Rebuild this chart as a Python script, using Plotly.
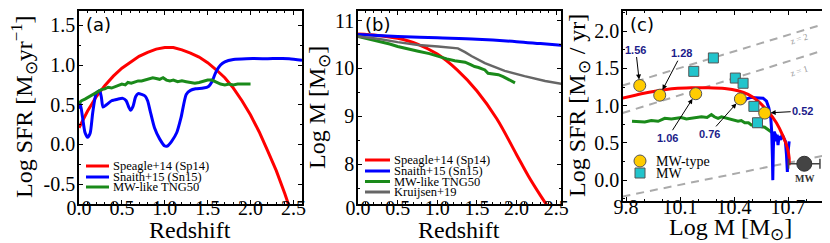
import plotly.graph_objects as go

# ---------------- DATA ----------------
# Panel (a): log SFR vs redshift
z_sp14 = [0.0, 0.05, 0.1, 0.15, 0.2, 0.3, 0.4, 0.5, 0.6, 0.7, 0.8, 0.9, 1.0, 1.1, 1.2, 1.3,
          1.4, 1.5, 1.6, 1.7, 1.8, 1.9, 2.0, 2.1, 2.2, 2.3, 2.4, 2.45]
sfr_sp14 = [0.21, 0.32, 0.42, 0.51, 0.60, 0.74, 0.86, 0.96, 1.04, 1.11, 1.16, 1.20, 1.22, 1.22,
            1.19, 1.15, 1.10, 1.03, 0.94, 0.84, 0.71, 0.55, 0.37, 0.16, -0.08, -0.33, -0.62, -0.78]

z_sn15 = [0.0, 0.015, 0.04, 0.07, 0.1, 0.13, 0.16, 0.2, 0.24, 0.26, 0.28, 0.32, 0.38, 0.45, 0.51,
          0.55, 0.58, 0.6, 0.63, 0.66, 0.69, 0.73, 0.77, 0.8, 0.83, 0.88, 0.94, 1.0, 1.03, 1.08,
          1.14, 1.19, 1.25, 1.3, 1.36, 1.45, 1.51, 1.55, 1.6, 1.65, 1.7, 1.8, 1.95, 2.2, 2.45, 2.6]
sfr_sn15 = [0.45, 0.52, 0.35, 0.15, 0.09, 0.14, 0.40, 0.64, 0.68, 0.60, 0.47, 0.50, 0.55, 0.57,
            0.58, 0.55, 0.47, 0.43, 0.48, 0.60, 0.64, 0.63, 0.61, 0.55, 0.42, 0.21, 0.07, -0.02,
            -0.02, 0.04, 0.15, 0.34, 0.63, 0.68, 0.70, 0.71, 0.73, 0.79, 0.92, 1.00, 1.04, 1.07,
            1.08, 1.08, 1.08, 1.06]

z_tng = [0.0, 0.03, 0.07, 0.1, 0.14, 0.18, 0.22, 0.26, 0.3, 0.34, 0.38, 0.42, 0.46, 0.5, 0.54,
         0.57, 0.61, 0.65, 0.69, 0.73, 0.77, 0.81, 0.86, 0.9, 0.94, 0.98, 1.02, 1.06, 1.1, 1.15,
         1.2, 1.25, 1.3, 1.35, 1.4, 1.45, 1.5, 1.55, 1.6, 1.65, 1.7, 1.75, 1.8, 1.85, 1.9, 1.95, 2.0]
sfr_tng = [0.52, 0.55, 0.57, 0.59, 0.61, 0.64, 0.67, 0.69, 0.70, 0.72, 0.71, 0.73, 0.74, 0.76,
           0.75, 0.78, 0.77, 0.79, 0.80, 0.80, 0.81, 0.82, 0.84, 0.83, 0.82, 0.84, 0.81, 0.80,
           0.81, 0.79, 0.80, 0.79, 0.78, 0.77, 0.78, 0.80, 0.81, 0.81, 0.79, 0.76, 0.75, 0.76,
           0.75, 0.76, 0.76, 0.76, 0.76]

# Panel (b): log M vs redshift
z_m_sp14 = [0.0, 0.25, 0.5, 0.75, 1.0, 1.25, 1.5, 1.75, 2.0, 2.15, 2.3, 2.38]
m_sp14 = [10.72, 10.69, 10.63, 10.51, 10.30, 9.97, 9.53, 8.95, 8.20, 7.75, 7.35, 7.15]
z_m_sn15 = [0.0, 0.5, 1.0, 1.5, 2.0, 2.3, 2.6]
m_sn15 = [10.71, 10.67, 10.64, 10.61, 10.56, 10.52, 10.48]
z_m_tng = [0.0, 0.1, 0.25, 0.4, 0.5, 0.65, 0.76, 0.9, 1.01, 1.12, 1.22, 1.3, 1.35, 1.42, 1.47,
           1.52, 1.56, 1.6, 1.64, 1.7, 1.77, 1.83, 1.89, 1.94, 1.98]
m_tng = [10.67, 10.63, 10.58, 10.51, 10.46, 10.41, 10.36, 10.31, 10.25, 10.20, 10.16, 10.14,
         10.13, 10.08, 10.04, 10.02, 9.99, 9.97, 9.90, 9.88, 9.87, 9.83, 9.78, 9.74, 9.70]
z_m_kr19 = [0.0, 0.25, 0.5, 0.76, 1.01, 1.26, 1.35, 1.43, 1.6, 1.85, 2.1, 2.36, 2.6]
m_kr19 = [10.67, 10.62, 10.55, 10.49, 10.46, 10.42, 10.34, 10.26, 10.11, 9.95, 9.84, 9.74, 9.67]

# Panel (c): log SFR vs log M
m_c_sp14 = [9.78, 9.885, 9.978, 10.07, 10.163, 10.256, 10.348, 10.422, 10.478, 10.533, 10.589,
            10.635, 10.672, 10.696, 10.706, 10.706]
sfr_c_sp14 = [1.10, 1.16, 1.20, 1.23, 1.24, 1.24, 1.23, 1.20, 1.15, 1.06, 0.92, 0.77, 0.59,
              0.43, 0.30, 0.20]
m_c_sn15 = [10.452, 10.469, 10.496, 10.533, 10.561, 10.58, 10.593, 10.604, 10.609, 10.613,
            10.615, 10.618, 10.622, 10.63, 10.635, 10.639, 10.644, 10.65, 10.659, 10.667,
            10.678, 10.685, 10.691, 10.696, 10.7, 10.706]
sfr_c_sn15 = [1.05, 1.09, 1.11, 1.11, 1.10, 1.06, 0.97, 0.83, 0.65, 0.29, 0.0, 0.43, 0.65,
              0.61, 0.52, 0.61, 0.47, 0.59, 0.54, 0.61, 0.54, 0.52, 0.34, 0.11, 0.38, 0.52]
m_c_tng = [9.833, 9.87, 9.904, 9.94, 9.978, 10.015, 10.052, 10.08, 10.107, 10.135, 10.163,
           10.19, 10.219, 10.25, 10.274, 10.29, 10.311, 10.33, 10.348, 10.385, 10.422, 10.44,
           10.459, 10.48, 10.496, 10.533, 10.55, 10.57, 10.598, 10.611]
sfr_c_tng = [0.79, 0.78, 0.78, 0.80, 0.79, 0.83, 0.82, 0.83, 0.84, 0.82, 0.83, 0.84, 0.85,
             0.84, 0.88, 0.85, 0.83, 0.85, 0.84, 0.81, 0.79, 0.80, 0.77, 0.77, 0.74, 0.74,
             0.72, 0.71, 0.66, 0.64]

# MW-type galaxies (yellow circles) and their redshift labels
m_mwtype = [9.876, 9.987, 10.187, 10.435, 10.57]
sfr_mwtype = [1.27, 1.14, 1.16, 1.09, 0.90]
z_mwtype_labels = ["1.56", "1.28", "1.06", "0.76", "0.52"]

# MW measurements (cyan squares)
m_mw = [10.176, 10.285, 10.407, 10.45, 10.51, 10.53]
sfr_mw = [1.46, 1.64, 1.37, 1.30, 0.99, 0.77]
sfr_mw_err = [0, 0, 0, 0, 0, 0.06]

# The Milky Way today
m_mw_now = [10.79]
sfr_mw_now = [0.22]
m_mw_now_err = [0.087]

# Main-sequence reference lines (dashed) in panel (c)
ms_m = [9.78, 10.96]
ms_z2 = [1.27, 2.14]
ms_z1 = [0.90, 1.79]
ms_z0 = [-0.22, 0.36]

# Tick labels
ticks_a_y = [-0.5, 0.0, 0.5, 1.0, 1.5]
ticktext_a_y = ["-0.5", "0.0", "0.5", "1.0", "1.5"]
ticks_z = [0.0, 0.5, 1.0, 1.5, 2.0, 2.5]
ticktext_z = ["0.0", "0.5", "1.0", "1.5", "2.0", "2.5"]
ticks_b_y = [8, 9, 10, 11]
ticks_c_x = [9.8, 10.1, 10.4, 10.7]
ticktext_c_x = ["9.8", "10.1", "10.4", "10.7"]
ticks_c_y = [0.0, 0.5, 1.0, 1.5, 2.0]
ticktext_c_y = ["0.0", "0.5", "1.0", "1.5", "2.0"]

# ---------------- STYLE ----------------
W, H = 830, 243
SERIF = "Liberation Serif"
RED, BLUE, GREEN, GREY = "#ff0000", "#0000ff", "#1a8a1a", "#666666"
NAVY = "#1c1c8a"


def px_x(px):
    return px / W


def px_y(py):
    return 1 - py / H


fig = go.Figure()

# panel (a)
fig.add_trace(go.Scatter(x=z_sp14, y=sfr_sp14, mode="lines", line=dict(color=RED, width=3),
                         xaxis="x", yaxis="y", showlegend=False))
fig.add_trace(go.Scatter(x=z_sn15, y=sfr_sn15, mode="lines", line=dict(color=BLUE, width=3, shape="spline", smoothing=0.6),
                         xaxis="x", yaxis="y", showlegend=False))
fig.add_trace(go.Scatter(x=z_tng, y=sfr_tng, mode="lines", line=dict(color=GREEN, width=3),
                         xaxis="x", yaxis="y", showlegend=False))
# panel (b)
fig.add_trace(go.Scatter(x=z_m_sp14, y=m_sp14, mode="lines", line=dict(color=RED, width=3, shape="spline"),
                         xaxis="x2", yaxis="y2", showlegend=False))
fig.add_trace(go.Scatter(x=z_m_sn15, y=m_sn15, mode="lines", line=dict(color=BLUE, width=3, shape="spline"),
                         xaxis="x2", yaxis="y2", showlegend=False))
fig.add_trace(go.Scatter(x=z_m_tng, y=m_tng, mode="lines", line=dict(color=GREEN, width=3),
                         xaxis="x2", yaxis="y2", showlegend=False))
fig.add_trace(go.Scatter(x=z_m_kr19, y=m_kr19, mode="lines", line=dict(color=GREY, width=2.5),
                         xaxis="x2", yaxis="y2", showlegend=False))
# panel (c)
for ys in (ms_z2, ms_z1, ms_z0):
    fig.add_trace(go.Scatter(x=ms_m, y=ys, mode="lines",
                             line=dict(color="#aaaaaa", width=2, dash="8px,6px"),
                             xaxis="x3", yaxis="y3", showlegend=False))
fig.add_trace(go.Scatter(x=m_c_tng, y=sfr_c_tng, mode="lines", line=dict(color=GREEN, width=3),
                         xaxis="x3", yaxis="y3", showlegend=False))
fig.add_trace(go.Scatter(x=m_c_sn15, y=sfr_c_sn15, mode="lines", line=dict(color=BLUE, width=3),
                         xaxis="x3", yaxis="y3", showlegend=False))
fig.add_trace(go.Scatter(x=m_c_sp14, y=sfr_c_sp14, mode="lines", line=dict(color=RED, width=3, shape="spline", smoothing=0.5),
                         xaxis="x3", yaxis="y3", showlegend=False))
fig.add_trace(go.Scatter(x=m_mw, y=sfr_mw, mode="markers",
                         marker=dict(symbol="square", size=10, color="#22c4cc",
                                     line=dict(color="#555555", width=1)),
                         error_y=dict(type="data", array=sfr_mw_err, color="#444444", thickness=1, width=3),
                         xaxis="x3", yaxis="y3", showlegend=False))
fig.add_trace(go.Scatter(x=m_mwtype, y=sfr_mwtype, mode="markers",
                         marker=dict(symbol="circle", size=12, color="#ffcc00",
                                     line=dict(color="#555555", width=1)),
                         xaxis="x3", yaxis="y3", showlegend=False))
fig.add_trace(go.Scatter(x=m_mw_now, y=sfr_mw_now, mode="markers",
                         marker=dict(symbol="circle", size=15, color="#444444",
                                     line=dict(color="#333333", width=1)),
                         error_x=dict(type="data", array=m_mw_now_err, color="#444444", thickness=1.5, width=5),
                         xaxis="x3", yaxis="y3", showlegend=False))

axis_common = dict(showline=True, linecolor="black", linewidth=1.5, mirror="ticks",
                   ticks="inside", ticklen=4, tickcolor="black", showgrid=False, zeroline=False,
                   automargin=False,
                   tickfont=dict(family=SERIF, size=20, color="black"),
                   title_font=dict(family=SERIF, size=24, color="black"))

ydom = [px_y(196), px_y(3)]
ydom_c = [px_y(193), px_y(3)]
XSO = -15   # pull x tick labels toward the axis
YSO = -2

fig.update_layout(
    width=W, height=H, margin=dict(l=0, r=0, t=0, b=0, pad=0, autoexpand=False),
    paper_bgcolor="white", plot_bgcolor="white",
    xaxis=dict(domain=[px_x(71), px_x(294)], range=[0, 2.6], tickvals=ticks_z, ticktext=ticktext_z,
               anchor="y", ticklabelstandoff=XSO,
               minor=dict(ticks="inside", ticklen=2, dtick=0.1, tickcolor="black"), **axis_common),
    yaxis=dict(domain=ydom, range=[-0.75, 1.68], tickvals=ticks_a_y, ticktext=ticktext_a_y,
               anchor="x", ticklabelstandoff=YSO,
               minor=dict(ticks="inside", ticklen=2, dtick=0.25, tickcolor="black"), **axis_common),
    xaxis2=dict(domain=[px_x(350), px_x(553)], range=[0, 2.56], tickvals=ticks_z, ticktext=ticktext_z,
                anchor="y2", ticklabelstandoff=XSO,
                minor=dict(ticks="inside", ticklen=2, dtick=0.1, tickcolor="black"), **axis_common),
    yaxis2=dict(domain=ydom, range=[7.17, 11.2], tickvals=ticks_b_y,
                anchor="x2", ticklabelstandoff=YSO,
                minor=dict(ticks="inside", ticklen=2, dtick=0.5, tickcolor="black"), **axis_common),
    xaxis3=dict(domain=[px_x(615), px_x(826)], range=[9.783, 10.955], tickvals=ticks_c_x,
                ticktext=ticktext_c_x, anchor="y3", ticklabelstandoff=XSO + 2,
                minor=dict(ticks="inside", ticklen=2, dtick=0.1, tickcolor="black"), **axis_common),
    yaxis3=dict(domain=ydom_c, range=[-0.28, 2.27], tickvals=ticks_c_y, ticktext=ticktext_c_y,
                anchor="x3", ticklabelstandoff=YSO,
                minor=dict(ticks="inside", ticklen=2, dtick=0.25, tickcolor="black"), **axis_common),
)

annotations = []
shapes = []

# axis titles (placed as text at their pixel positions)
for txt, xp, yp in (("Redshift", 182, 222), ("Redshift", 451, 222), ("Log M [M<sub>⊙</sub>]", 722, 221)):
    annotations.append(dict(text=txt, x=px_x(xp), y=px_y(yp), xref="paper", yref="paper",
                            xanchor="center", yanchor="middle", showarrow=False,
                            font=dict(family=SERIF, size=24, color="black")))
for txt, xp, yp in (("Log SFR [M<sub>⊙</sub>yr<sup>−1</sup>]", 16, 99),
                    ("Log M [M<sub>⊙</sub>]", 311, 100),
                    ("Log SFR [M<sub>⊙</sub> / yr]", 571, 98)):
    annotations.append(dict(text=txt, x=px_x(xp), y=px_y(yp), xref="paper", yref="paper",
                            xanchor="center", yanchor="middle", showarrow=False, textangle=-90,
                            font=dict(family=SERIF, size=24, color="black")))

# panel labels
for lab, xp in (("(a)", 76), ("(b)", 355), ("(c)", 620)):
    annotations.append(dict(text=lab, x=px_x(xp), y=px_y(16), xref="paper", yref="paper",
                            xanchor="left", yanchor="middle", showarrow=False,
                            font=dict(family="DejaVu Sans", size=18, color="black")))

# manual legends (lines)
def line_legend(x0, x1, tx, rows):
    for (txt, col, yy) in rows:
        shapes.append(dict(type="line", xref="paper", yref="paper", x0=px_x(x0), x1=px_x(x1),
                           y0=px_y(yy), y1=px_y(yy), line=dict(color=col, width=3)))
        annotations.append(dict(text=txt, x=px_x(tx), y=px_y(yy), xref="paper", yref="paper",
                                xanchor="left", yanchor="middle", showarrow=False,
                                font=dict(family=SERIF, size=12.5, color="black")))

line_legend(78, 101, 103, [("Speagle+14 (Sp14)", RED, 158), ("Snaith+15 (Sn15)", BLUE, 169),
                           ("MW-like TNG50", GREEN, 179)])
line_legend(357, 382, 384, [("Speagle+14 (Sp14)", RED, 152), ("Snaith+15 (Sn15)", BLUE, 163),
                            ("MW-like TNG50", GREEN, 173.5), ("Kruijsen+19", GREY, 184)])

# legend (c): markers
shapes.append(dict(type="circle", xref="paper", yref="paper", xsizemode="pixel", ysizemode="pixel",
                   xanchor=px_x(632), yanchor=px_y(153), x0=-6, x1=6, y0=-6, y1=6,
                   fillcolor="#ffcc00", line=dict(color="#555555", width=1)))
shapes.append(dict(type="rect", xref="paper", yref="paper", xsizemode="pixel", ysizemode="pixel",
                   xanchor=px_x(632), yanchor=px_y(165), x0=-5, x1=5, y0=-5, y1=5,
                   fillcolor="#22c4cc", line=dict(color="#555555", width=1)))
for txt, yy in (("MW-type", 153), ("MW", 165)):
    annotations.append(dict(text=txt, x=px_x(646), y=px_y(yy), xref="paper", yref="paper",
                            xanchor="left", yanchor="middle", showarrow=False,
                            font=dict(family=SERIF, size=14, color="black")))

# redshift labels with arrows for MW-type galaxies
offsets = [(-4, -36), (22, -42), (-28, 44), (-31, 35), (38, -2)]
for mx, sy, lab, (ax, ay) in zip(m_mwtype, sfr_mwtype, z_mwtype_labels, offsets):
    annotations.append(dict(x=mx, y=sy, xref="x3", yref="y3", text="<b>%s</b>" % lab,
                            showarrow=True, ax=ax, ay=ay, arrowhead=2, arrowsize=1, arrowwidth=1,
                            arrowcolor="black", standoff=6,
                            font=dict(family="Liberation Sans", size=11, color=NAVY)))

# main-sequence labels
annotations.append(dict(x=10.76, y=1.90, xref="x3", yref="y3", text="z = 2", showarrow=False,
                        textangle=-17, font=dict(family=SERIF, size=9, color="#999999")))
annotations.append(dict(x=10.76, y=1.47, xref="x3", yref="y3", text="z = 1", showarrow=False,
                        textangle=-17, font=dict(family=SERIF, size=9, color="#999999")))
# MW label
annotations.append(dict(x=m_mw_now[0], y=sfr_mw_now[0], xref="x3", yref="y3", text="<b>MW</b>",
                        showarrow=False, yshift=-15,
                        font=dict(family=SERIF, size=10, color="#333333")))

fig.update_layout(annotations=annotations, shapes=shapes)
fig.write_html("out.html")
